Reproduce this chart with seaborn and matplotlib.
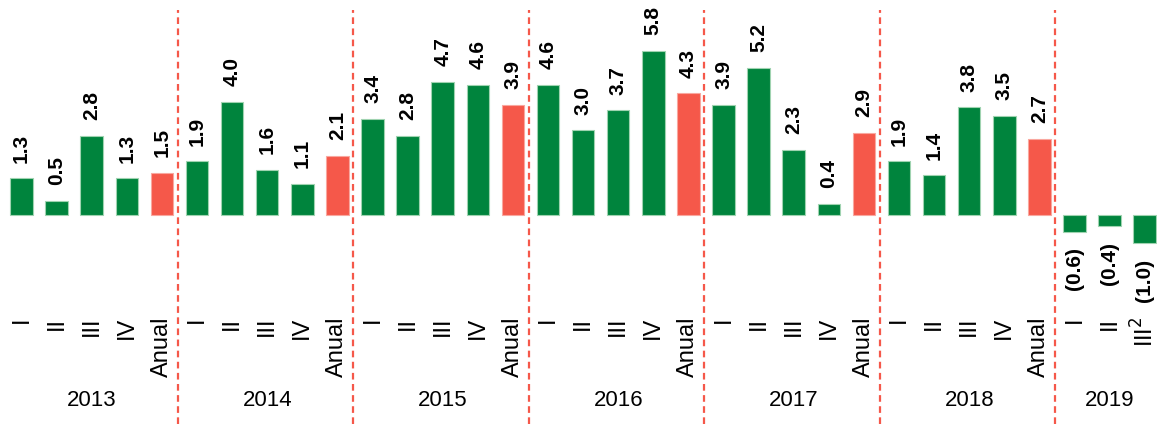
import seaborn as sns
import pandas as pd
import matplotlib.pyplot as plt

# Quarterly and annual growth, 2013-2019
years = ['2013', '2014', '2015', '2016', '2017', '2018', '2019']
periods = [
    ['I', 'II', 'III', 'IV', 'Anual'],
    ['I', 'II', 'III', 'IV', 'Anual'],
    ['I', 'II', 'III', 'IV', 'Anual'],
    ['I', 'II', 'III', 'IV', 'Anual'],
    ['I', 'II', 'III', 'IV', 'Anual'],
    ['I', 'II', 'III', 'IV', 'Anual'],
    ['I', 'II', 'III$^2$'],
]
values = [
    [1.3, 0.5, 2.8, 1.3, 1.5],
    [1.9, 4.0, 1.6, 1.1, 2.1],
    [3.4, 2.8, 4.7, 4.6, 3.9],
    [4.6, 3.0, 3.7, 5.8, 4.3],
    [3.9, 5.2, 2.3, 0.4, 2.9],
    [1.9, 1.4, 3.8, 3.5, 2.7],
    [-0.6, -0.4, -1.0],
]

green = '#00843D'
red = '#F5584A'

rows = []
for y, per, vals in zip(years, periods, values):
    for p, v in zip(per, vals):
        rows.append({'year': y, 'period': p, 'value': v,
                     'key': y + ' ' + p, 'color': red if p == 'Anual' else green})
df = pd.DataFrame(rows)

plt.rcParams['font.family'] = ['Liberation Sans', 'DejaVu Sans']

fig = plt.figure(figsize=(11.57, 4.24), dpi=100)
ax = fig.add_axes([0, 0, 1, 1])
sns.barplot(data=df, x='key', y='value', hue='key', palette=list(df['color']),
            order=list(df['key']), width=0.64, legend=False, ax=ax, saturation=1)

# light outline like the original
for patch, c in zip(ax.patches, df['color']):
    patch.set_edgecolor('#9fd3b0' if c == green else '#f9a79f')
    patch.set_linewidth(0.8)

ax.set_xlim(-0.6125, 32.35)
ax.set_ylim(-7.39, 7.6)
ax.axis('off')

for i, r in df.iterrows():
    if r['value'] >= 0:
        ax.text(i, r['value'] + 0.55, f"{r['value']:.1f}", rotation=90, ha='center',
                va='bottom', fontsize=15, fontweight='bold')
    else:
        ax.text(i, r['value'] - 0.55, f"({abs(r['value']):.1f})", rotation=90, ha='center',
                va='top', fontsize=15, fontweight='bold')
    ax.text(i, -3.6, r['period'], rotation=90, ha='center', va='top', fontsize=17)

# year labels and separators
start = 0
for y, per in zip(years, periods):
    n = len(per)
    ax.text(start + (n - 1) / 2, -6.55, y, ha='center', va='center', fontsize=16)
    if start > 0:
        ax.vlines(start - 0.55, -7.39, 7.25, colors=red, linestyles=(0, (3, 2)), linewidth=1.6)
    start += n

fig.savefig('out.png', dpi=100)
